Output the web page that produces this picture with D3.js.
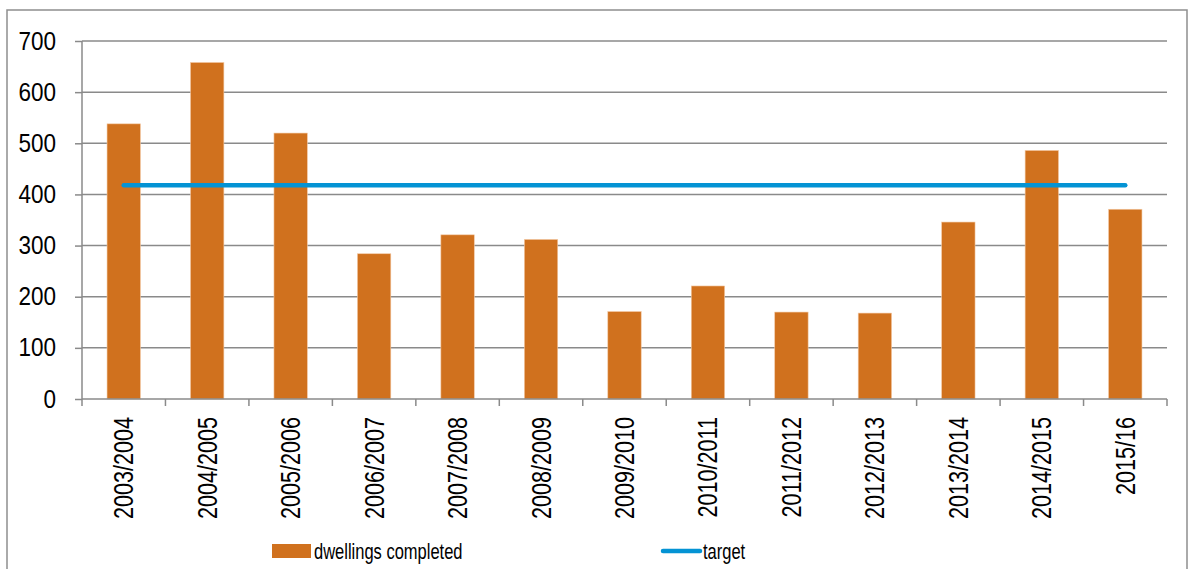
<!DOCTYPE html>
<html>
<head>
<meta charset="utf-8">
<script src="https://cdn.jsdelivr.net/npm/d3@7"></script>
<style>
  html, body { margin: 0; padding: 0; background: #fff; }
  svg { display: block; }
  text { font-family: "Liberation Sans", Arial, sans-serif; fill: #000; }
</style>
</head>
<body>
<div id="chart"></div>
<script>
const width = 1193;
const height = 569;

const years = [
  "2003/2004", "2004/2005", "2005/2006", "2006/2007", "2007/2008",
  "2008/2009", "2009/2010", "2010/2011", "2011/2012", "2012/2013",
  "2013/2014", "2014/2015", "2015/16",
];
const completed = [538, 658, 520, 284, 321, 312, 171, 221, 170, 168, 346, 486, 371];
const target = [418, 418, 418, 418, 418, 418, 418, 418, 418, 418, 418, 418, 418];
const yTicks = [0, 100, 200, 300, 400, 500, 600, 700];

const margin = { top: 41, right: 26, bottom: 170, left: 82 };
const grid = "#8a8a8a";
const orange = "#d0711e";
const blue = "#0493d4";

const svg = d3
  .select("#chart")
  .append("svg")
  .attr("width", width)
  .attr("height", height);

// outer chart border
svg
  .append("rect")
  .attr("x", 7)
  .attr("y", 10)
  .attr("width", 1180)
  .attr("height", 580)
  .attr("fill", "none")
  .attr("stroke", "#8e8e8e")
  .attr("stroke-width", 1.5);

const x = d3
  .scaleBand()
  .domain(years)
  .range([margin.left, width - margin.right])
  .paddingInner(0.6)
  .paddingOuter(0.3);

const step = x.step();
const x0 = margin.left;

const y = d3
  .scaleLinear()
  .domain([0, 700])
  .range([height - margin.bottom, margin.top]);

// y axis ticks + labels
const yAxis = svg
  .append("g")
  .attr("transform", `translate(${x0},0)`)
  .call(d3.axisLeft(y).tickValues(yTicks).tickSize(7).tickPadding(22));
yAxis.select(".domain").remove();
yAxis.selectAll(".tick line").attr("stroke", grid).attr("stroke-width", 1.5);
yAxis
  .selectAll(".tick text")
  .attr("font-size", 25)
  .attr("font-family", "Liberation Sans, Arial, sans-serif")
  .attr("transform", "scale(0.9,1)");

// gridlines
svg
  .append("g")
  .selectAll("line")
  .data(yTicks.filter((d) => d > 0))
  .join("line")
  .attr("x1", x0)
  .attr("x2", width - margin.right)
  .attr("y1", (d) => y(d))
  .attr("y2", (d) => y(d))
  .attr("stroke", grid)
  .attr("stroke-width", 1.5);

// bars
svg
  .append("g")
  .selectAll("rect")
  .data(years)
  .join("rect")
  .attr("x", (d) => x(d))
  .attr("y", (d, i) => y(completed[i]))
  .attr("width", x.bandwidth())
  .attr("height", (d, i) => y(0) - y(completed[i]))
  .attr("fill", orange)
  .attr("stroke", "#f3c9a4")
  .attr("stroke-width", 0.6);

// x axis line, y axis line, category ticks
svg
  .append("line")
  .attr("x1", x0)
  .attr("x2", width - margin.right)
  .attr("y1", y(0))
  .attr("y2", y(0))
  .attr("stroke", grid)
  .attr("stroke-width", 1.5);

svg
  .append("line")
  .attr("x1", x0)
  .attr("x2", x0)
  .attr("y1", y(700))
  .attr("y2", y(0) + 7)
  .attr("stroke", grid)
  .attr("stroke-width", 1.5);

svg
  .append("g")
  .selectAll("line")
  .data(d3.range(1, years.length + 1))
  .join("line")
  .attr("x1", (i) => x0 + i * step)
  .attr("x2", (i) => x0 + i * step)
  .attr("y1", y(0))
  .attr("y2", y(0) + 7)
  .attr("stroke", grid)
  .attr("stroke-width", 1.5);

svg
  .append("g")
  .selectAll("text")
  .data(years)
  .join("text")
  .attr(
    "transform",
    (d) =>
      `translate(${x(d) + x.bandwidth() / 2 + 9.5},${y(0) + 18}) rotate(-90) scale(0.8,1)`
  )
  .attr("text-anchor", "end")
  .attr("font-size", 27)
  .text((d) => d);

// target line
const line = d3
  .line()
  .x((d, i) => x(years[i]) + x.bandwidth() / 2)
  .y((d) => y(d));

svg
  .append("path")
  .datum(target)
  .attr("d", line)
  .attr("fill", "none")
  .attr("stroke", blue)
  .attr("stroke-width", 4.5)
  .attr("stroke-linecap", "round");

// legend
const legend = svg.append("g").attr("font-size", 22);

legend
  .append("rect")
  .attr("x", 272)
  .attr("y", 544)
  .attr("width", 39)
  .attr("height", 14)
  .attr("fill", orange);

legend
  .append("text")
  .attr("transform", "translate(314,559) scale(0.75,1)")
  .text("dwellings completed");

legend
  .append("line")
  .attr("x1", 663)
  .attr("x2", 700)
  .attr("y1", 551)
  .attr("y2", 551)
  .attr("stroke", blue)
  .attr("stroke-width", 4.5)
  .attr("stroke-linecap", "round");

legend
  .append("text")
  .attr("transform", "translate(703,559) scale(0.75,1)")
  .text("target");
</script>
</body>
</html>
